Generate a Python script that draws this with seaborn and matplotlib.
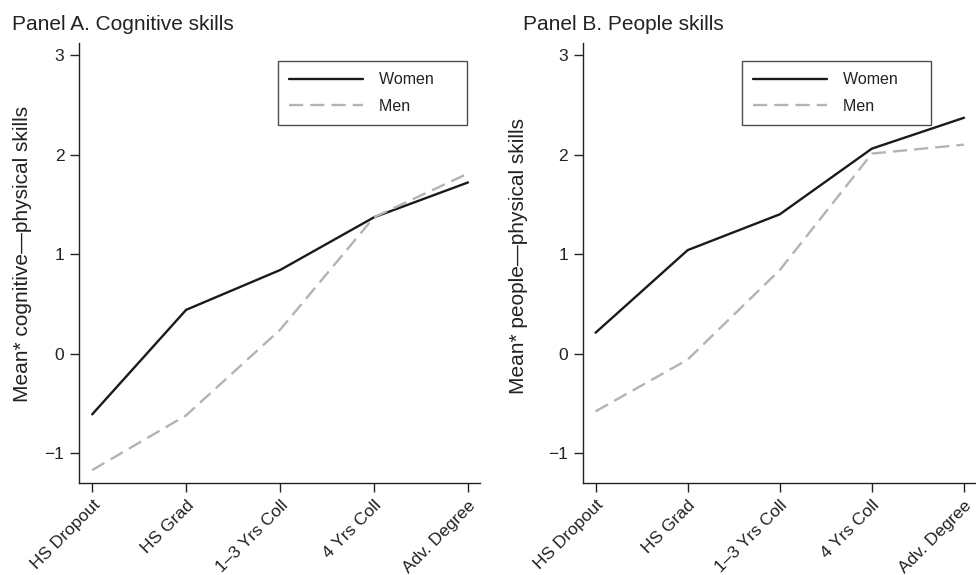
import numpy as np
import pandas as pd
import matplotlib
matplotlib.use("Agg")
import matplotlib.pyplot as plt
import seaborn as sns

# Education categories (x axis)
education = ["HS Dropout", "HS Grad", "1\u20133 Yrs Coll", "4 Yrs Coll", "Adv. Degree"]

# Panel A: cognitive - physical skills
cog_women = [-0.61, 0.44, 0.84, 1.37, 1.72]
cog_men = [-1.17, -0.62, 0.24, 1.37, 1.81]

# Panel B: people - physical skills
ppl_women = [0.21, 1.04, 1.40, 2.06, 2.37]
ppl_men = [-0.58, -0.06, 0.84, 2.01, 2.10]

y_ticks = [-1, 0, 1, 2, 3]
y_tick_labels = ["\u22121", "0", "1", "2", "3"]

sns.set_theme(style="ticks")
plt.rcParams['font.family'] = ['Liberation Sans', 'DejaVu Sans']
plt.rcParams['text.color'] = '#222222'
plt.rcParams['axes.labelcolor'] = '#222222'
plt.rcParams['xtick.color'] = '#222222'
plt.rcParams['ytick.color'] = '#222222'

fig = plt.figure(figsize=(9.76, 5.75), dpi=100)
ax_a = fig.add_axes([0.081, 0.160, 0.411, 0.765])
ax_b = fig.add_axes([0.597, 0.160, 0.403, 0.765])


def make_df(women, men):
    return pd.DataFrame({
        "x": list(range(len(education))) * 2,
        "value": women + men,
        "sex": ["Women"] * len(women) + ["Men"] * len(men),
    })


panels = [
    (ax_a, make_df(cog_women, cog_men), "Mean* cognitive\u2014physical skills",
     0.496, -0.117, 0.52),
    (ax_b, make_df(ppl_women, ppl_men), "Mean* people\u2014physical skills",
     0.405, -0.140, 0.516),
]

for ax, df, ylabel, lx, ylx, yly in panels:
    sns.lineplot(data=df, x="x", y="value", hue="sex", style="sex",
                 palette={"Women": "#1a1a1a", "Men": "#b3b3b3"},
                 dashes={"Women": "", "Men": (6, 3)},
                 linewidth=1.7, ax=ax)
    ax.set_xlim(-0.14, 4.13)
    ax.set_ylim(-1.30, 3.12)
    ax.set_xticks(range(len(education)))
    ax.set_xticklabels(education, rotation=45, ha="right", rotation_mode="anchor",
                       fontsize=12.5)
    ax.set_yticks(y_ticks)
    ax.set_yticklabels(y_tick_labels, fontsize=12.5)
    ax.tick_params(axis="both", length=6.5, width=1, direction="out", pad=4)
    ax.set_xlabel("")
    ax.set_ylabel(ylabel, fontsize=15)
    ax.yaxis.set_label_coords(ylx, yly)
    for side in ["top", "right"]:
        ax.spines[side].set_visible(False)
    for side in ["left", "bottom"]:
        ax.spines[side].set_linewidth(1.0)
        ax.spines[side].set_color("#222222")
    leg = ax.legend(loc="upper left", bbox_to_anchor=(lx, 0.959), frameon=True,
                    fancybox=False, fontsize=11.5, handlelength=4.6,
                    handletextpad=1.0, labelspacing=0.7, borderpad=0.7,
                    borderaxespad=0)
    leg.get_frame().set_edgecolor("#222222")
    leg.get_frame().set_linewidth(1.0)
    # extra right padding in the legend box
    for t in leg.get_texts():
        t.set_text(t.get_text() + "     ")

fig.text(0.012, 0.958, "Panel A. Cognitive skills", fontsize=15, va="center")
fig.text(0.536, 0.958, "Panel B. People skills", fontsize=15, va="center")

fig.savefig("out.png", dpi=100)
